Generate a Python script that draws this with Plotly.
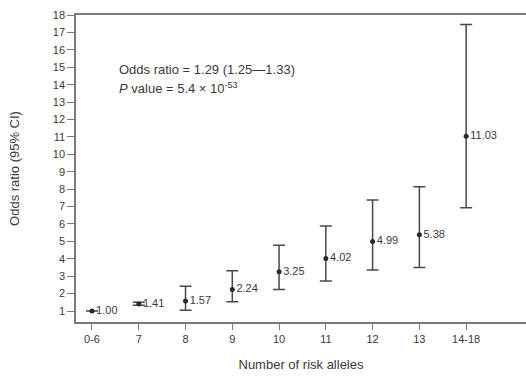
import plotly.graph_objects as go

categories = ["0-6", "7", "8", "9", "10", "11", "12", "13", "14-18"]
odds = [1.00, 1.41, 1.57, 2.24, 3.25, 4.02, 4.99, 5.38, 11.03]
ci_low = [1.00, 1.33, 1.05, 1.53, 2.23, 2.73, 3.35, 3.50, 6.93]
ci_high = [1.00, 1.50, 2.42, 3.32, 4.78, 5.88, 7.38, 8.14, 17.45]
labels = ["1.00", "1.41", "1.57", "2.24", "3.25", "4.02", "4.99", "5.38", "11.03"]
yticks = list(range(1, 19))

xi = list(range(len(categories)))
err_plus = [h - o for h, o in zip(ci_high, odds)]
err_minus = [o - l for o, l in zip(odds, ci_low)]

font_family = "Liberation Sans, Arial, sans-serif"
ink = "#3a3a3a"
axis_col = "#7a7a7a"

fig = go.Figure()
fig.add_trace(go.Scatter(
    x=xi, y=odds, mode="markers+text",
    text=labels, textposition="middle right",
    textfont=dict(family=font_family, size=11, color=ink),
    marker=dict(size=5, color="#2a2a2a"),
    error_y=dict(type="data", symmetric=False, array=err_plus, arrayminus=err_minus,
                 color="#4a4a4a", thickness=1.5, width=6),
    showlegend=False,
    cliponaxis=False,
))

fig.add_annotation(x=0.53, y=14.85, xref="x", yref="y", xanchor="left", yanchor="middle",
                   text="Odds ratio = 1.29 (1.25\u20141.33)", showarrow=False,
                   font=dict(family=font_family, size=13, color=ink))
fig.add_annotation(x=0.53, y=13.8, xref="x", yref="y", xanchor="left", yanchor="middle",
                   text="<i>P</i> value = 5.4 \u00d7 10<sup>-53</sup>", showarrow=False,
                   font=dict(family=font_family, size=13, color=ink))

fig.update_layout(
    width=526, height=377,
    margin=dict(l=76, r=0, t=15, b=55),
    paper_bgcolor="white", plot_bgcolor="white",
    font=dict(family=font_family, color=ink),
    xaxis=dict(
        range=[-0.342, 9.28], tickmode="array", tickvals=xi, ticktext=categories,
        showgrid=False, zeroline=False, showline=True, linecolor=axis_col, linewidth=1.5,
        mirror=True, ticks="outside", ticklen=6, tickcolor=axis_col, tickwidth=1,
        tickfont=dict(size=11, color=ink), automargin=False,
        title=dict(text="Number of risk alleles", font=dict(size=13, color=ink), standoff=16),
    ),
    yaxis=dict(
        range=[0.37, 18.0], tickmode="array", tickvals=yticks,
        showgrid=False, zeroline=False, showline=True, linecolor=axis_col, linewidth=1.5,
        ticks="outside", ticklen=7, tickcolor=axis_col, tickwidth=1,
        tickfont=dict(size=11, color=ink), automargin=False,
        title=dict(text="Odds ratio (95% CI)", font=dict(size=13, color=ink), standoff=30),
    ),
)

fig.write_html("out.html", config={"displayModeBar": False},
               post_script="document.body.style.margin='0px';")
